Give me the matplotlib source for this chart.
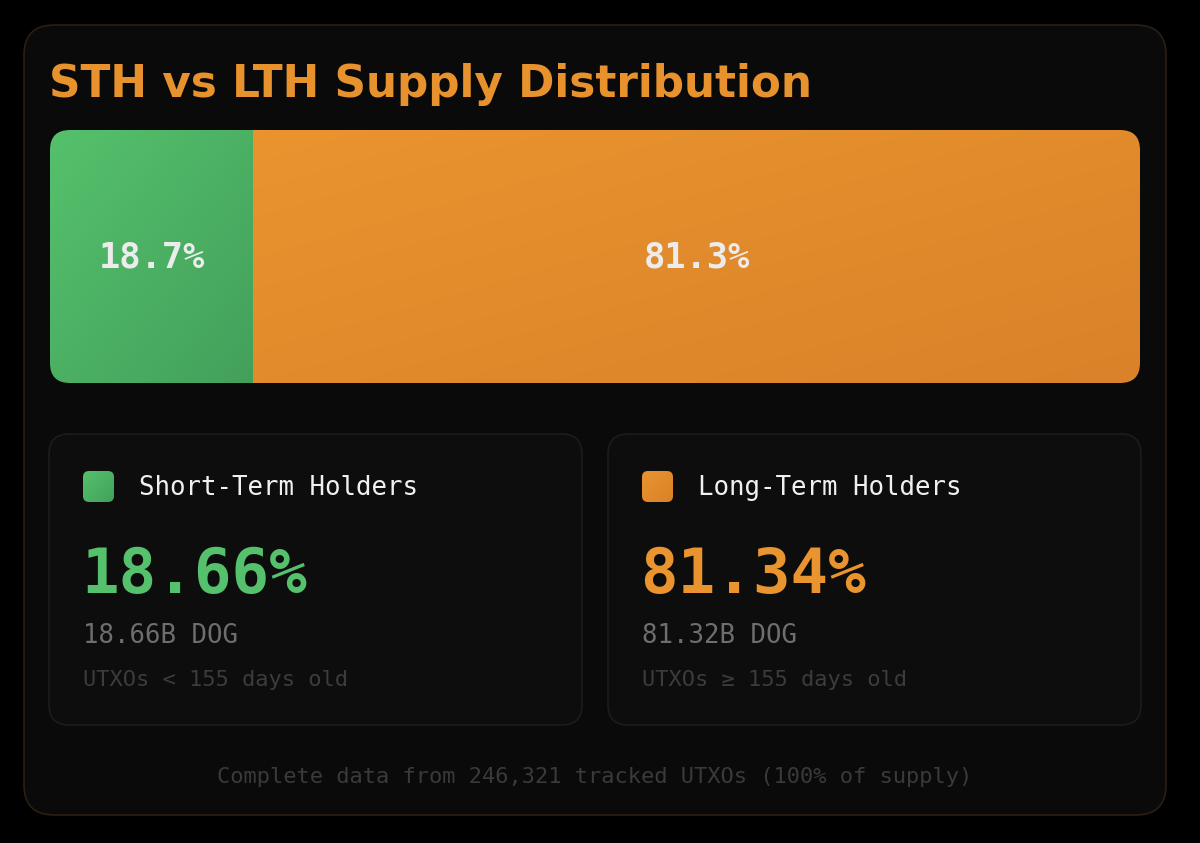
import numpy as np
import matplotlib.pyplot as plt
from matplotlib.patches import FancyBboxPatch
from matplotlib.colors import LinearSegmentedColormap

# data
groups = ["Short-Term Holders", "Long-Term Holders"]
shares = [18.66, 81.34]          # % of supply
supply_b = [18.66, 81.32]        # billions of DOG
age_rule = ["UTXOs < 155 days old", "UTXOs \u2265 155 days old"]
tracked_utxos = 246321

title = "STH vs LTH Supply Distribution"
green = ("#55c16c", "#43a05b")
orange = ("#e9942f", "#d98229")
colors = [green, orange]

W, H = 1200, 843
fig = plt.figure(figsize=(12, 8.43), dpi=100, facecolor="black")
ax = fig.add_axes([0, 0, 1, 1])
ax.set_xlim(0, W)
ax.set_ylim(H, 0)
ax.axis("off")
ax.set_facecolor("black")

mono = "DejaVu Sans Mono"


def rbox(x, y, w, h, r, **kw):
    p = FancyBboxPatch((x, y), w, h, boxstyle=f"round,pad=0,rounding_size={r}", **kw)
    ax.add_patch(p)
    return p


def gradient(x0, x1, y0, y1, c, clip):
    n = 64
    gx, gy = np.meshgrid(np.linspace(0, 1, n), np.linspace(0, 1, n))
    cmap = LinearSegmentedColormap.from_list("g", list(c))
    im = ax.imshow((gx + gy) / 2, cmap=cmap, extent=[x0, x1, y1, y0], origin="upper",
                   interpolation="bilinear", aspect="auto", zorder=3)
    im.set_clip_path(clip)


# outer card
rbox(24, 25, 1142, 790, 30, facecolor="#0a0a0a", edgecolor="#2a1f13", linewidth=1.2, zorder=1)

ax.text(49, 97, title, fontsize=31.5, fontweight="bold", color="#e8922e",
        family=["DejaVu Sans"], ha="left", va="baseline", zorder=5)

# stacked bar
bx, by, bw, bh = 50, 130, 1090, 253
clip = rbox(bx, by, bw, bh, 20, facecolor="none", edgecolor="none", zorder=2)
left = bx
for s, c in zip(shares, colors):
    right = left + bw * s / 100
    gradient(left, right + 0.5, by, by + bh, c, clip)
    ax.text((left + right) / 2, 268, f"{s:.1f}%", fontsize=25.5, fontweight="bold",
            color="#ececec", family=mono, ha="center", va="baseline", zorder=5)
    left = right

# cards
card_x = [49, 608]
cw, ch, cy = 533, 291, 434
for i, x in enumerate(card_x):
    rbox(x, cy, cw, ch, 20, facecolor="#0d0d0d", edgecolor="#1c1c1c", linewidth=1.2, zorder=2)
    sw = rbox(x + 34, cy + 37, 31, 31, 6, facecolor="none", edgecolor="none", zorder=3)
    gradient(x + 34, x + 65, cy + 37, cy + 68, colors[i], sw)
    ax.text(x + 90, cy + 61, groups[i], fontsize=18.5, color="#f0f0f0", family=mono,
            ha="left", va="baseline", zorder=5)
    ax.text(x + 32, cy + 159, f"{shares[i]:.2f}%", fontsize=45, fontweight="bold",
            color=colors[i][0], family=mono, ha="left", va="baseline", zorder=5)
    ax.text(x + 34, cy + 209, f"{supply_b[i]:.2f}B DOG", fontsize=18.5, color="#6e6e6e",
            family=mono, ha="left", va="baseline", zorder=5)
    ax.text(x + 34, cy + 252, age_rule[i], fontsize=15.8, color="#3c3c3c",
            family=mono, ha="left", va="baseline", zorder=5)

ax.text(595, 783, f"Complete data from {tracked_utxos:,} tracked UTXOs (100% of supply)",
        fontsize=15.8, color="#3a3a3a", family=mono, ha="center", va="baseline", zorder=5)

fig.savefig("out.png", dpi=100, facecolor="black")
